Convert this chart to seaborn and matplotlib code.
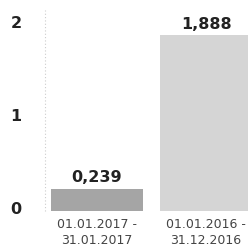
import matplotlib
matplotlib.use("Agg")
import matplotlib.pyplot as plt
import matplotlib.transforms as mtransforms
import seaborn as sns
import pandas as pd

periods = ["01.01.2017 -\n31.01.2017", "01.01.2016 -\n31.12.2016"]
values = [0.239, 1.888]
value_labels = ["0,239", "1,888"]
bar_colors = ["#a5a5a5", "#d5d5d5"]
y_ticks = [0, 1, 2]

sns.set_style("white")
plt.rcParams["font.family"] = ["DejaVu Sans"]

df = pd.DataFrame({"period": periods, "value": values})

fig = plt.figure(figsize=(2.48, 2.48), dpi=100)
ax = fig.add_axes([45 / 248, (248 - 211) / 248, (248 - 45) / 248, 201 / 248])

sns.barplot(data=df, x="period", y="value", hue="period", palette=bar_colors,
            width=0.845, legend=False, ax=ax, linewidth=0)

for i, (v, lab) in enumerate(zip(values, value_labels)):
    ax.text(i, v + 0.035, lab, ha="center", va="bottom", fontsize=11.5,
            fontweight="bold", color="#222222")

ax.set_xlim(-0.477, 1.385)
ax.set_ylim(0, 2.157)
ax.set_yticks(y_ticks)
ax.set_yticklabels([str(t) for t in y_ticks], fontsize=11.5, fontweight="bold", color="#222222")
ax.tick_params(axis="y", length=0, pad=17)
ax.tick_params(axis="x", length=0, pad=5, labelsize=9, labelcolor="#444444")
shift = mtransforms.ScaledTranslation(0, 3 / 100, fig.dpi_scale_trans)
for lab in ax.get_yticklabels():
    lab.set_transform(lab.get_transform() + shift)
for lab in ax.get_xticklabels():
    lab.set_linespacing(1.3)
ax.set_xlabel("")
ax.set_ylabel("")
for s in ax.spines.values():
    s.set_visible(False)
ax.axvline(-0.477, color="#cccccc", linestyle=(0, (1, 2)), linewidth=0.8, clip_on=False)

fig.savefig("out.png", dpi=100)
